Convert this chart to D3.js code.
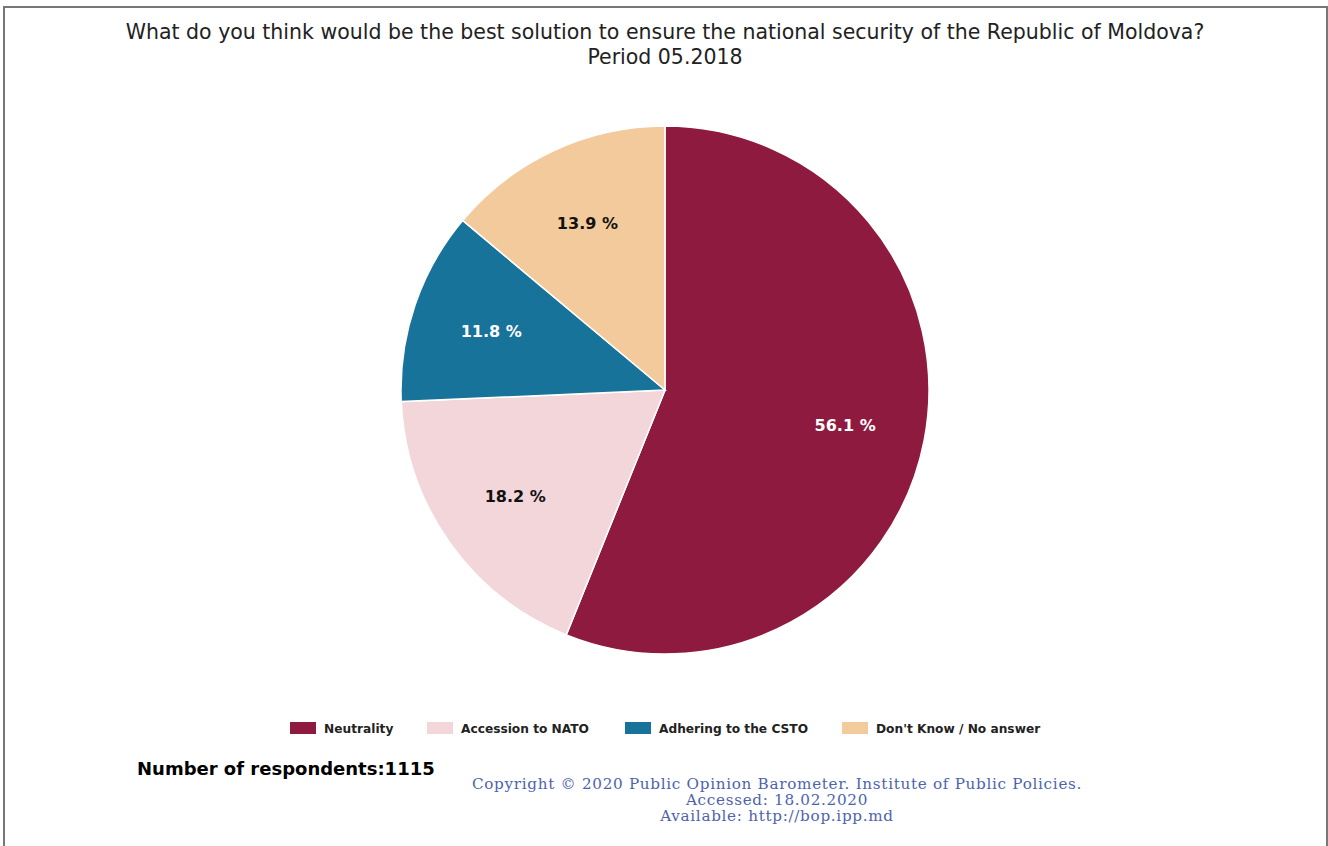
<!DOCTYPE html>
<html>
<head>
<meta charset="utf-8">
<script src="https://cdn.jsdelivr.net/npm/d3@7"></script>
<style>
html,body{margin:0;padding:0;background:#fff;}
svg{display:block;}
</style>
</head>
<body>
<svg id="chart" width="1328" height="846"></svg>
<script>
const categories = ["Neutrality", "Accession to NATO", "Adhering to the CSTO", "Don't Know / No answer"];
const values = [56.1, 18.2, 11.8, 13.9];
const colors = ["#8f1a40", "#f2d6da", "#17739a", "#f3ca9b"];
const labelColors = ["#ffffff", "#111111", "#ffffff", "#111111"];
const titleLines = ["What do you think would be the best solution to ensure the national security of the Republic of Moldova?", "Period 05.2018"];
const respondents = "Number of respondents:1115";
const copyrightLines = ["Copyright © 2020 Public Opinion Barometer. Institute of Public Policies.", "Accessed: 18.02.2020", "Available: http://bop.ipp.md"];

const svg = d3.select("#chart");
const W = 1328, H = 846;

// frame
svg.append("path")
  .attr("d", `M4,${H} V7 H1327 V${H}`)
  .attr("fill", "none").attr("stroke", "#777").attr("stroke-width", 2);

// title
svg.append("g").selectAll("text").data(titleLines).join("text")
  .attr("x", 665).attr("y", (d, i) => 39 + i * 25)
  .attr("text-anchor", "middle")
  .attr("font-family", "DejaVu Sans, sans-serif")
  .attr("font-size", 20.5).attr("fill", "#222")
  .text(d => d);

// pie
const cx = 665, cy = 390, R = 264;
const pie = d3.pie().sort(null).value(d => d)(values);
const arc = d3.arc().innerRadius(0).outerRadius(R);
const labelArc = d3.arc().innerRadius(R * 0.695).outerRadius(R * 0.695);
const g = svg.append("g").attr("transform", `translate(${cx},${cy})`);
g.selectAll("path").data(pie).join("path")
  .attr("d", arc)
  .attr("fill", (d, i) => colors[i])
  .attr("stroke", "#fff").attr("stroke-width", 1.5);
g.selectAll("text").data(pie).join("text")
  .attr("transform", d => `translate(${labelArc.centroid(d)})`)
  .attr("text-anchor", "middle").attr("dy", "0.35em")
  .attr("font-family", "DejaVu Sans, sans-serif")
  .attr("font-weight", "bold").attr("font-size", 16)
  .attr("fill", (d, i) => labelColors[i])
  .text(d => d3.format(".1f")(d.data) + " %");

// legend
const legendX = [290, 427, 625, 842];
const lg = svg.append("g");
const items = lg.selectAll("g").data(categories).join("g")
  .attr("transform", (d, i) => `translate(${legendX[i]},722)`);
items.append("rect").attr("width", 26).attr("height", 12)
  .attr("fill", (d, i) => colors[i]);
items.append("text").attr("x", 34).attr("y", 11)
  .attr("font-family", "DejaVu Sans, sans-serif")
  .attr("font-weight", "bold").attr("font-size", 12.2).attr("fill", "#222")
  .text(d => d);

// respondents
svg.append("text").attr("x", 137).attr("y", 775)
  .attr("font-family", "DejaVu Sans, sans-serif")
  .attr("font-weight", "bold").attr("font-size", 18).attr("fill", "#000")
  .text(respondents);

// copyright
svg.append("g").selectAll("text").data(copyrightLines).join("text")
  .attr("x", 777).attr("y", (d, i) => 789 + i * 16)
  .attr("text-anchor", "middle")
  .attr("font-family", "DejaVu Serif, serif")
  .attr("font-size", 15.2).attr("letter-spacing", 0.7).attr("fill", "#4e63ad")
  .text(d => d);
</script>
</body>
</html>
